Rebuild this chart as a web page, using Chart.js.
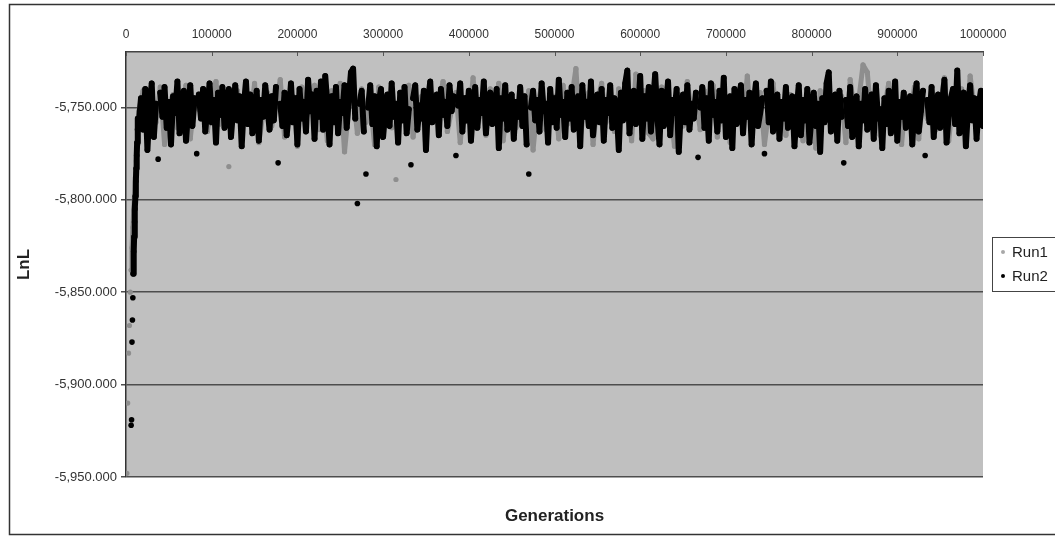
<!DOCTYPE html>
<html>
<head>
<meta charset="utf-8">
<script src="https://cdn.jsdelivr.net/npm/chart.js@4/dist/chart.umd.min.js"></script>
<style>
  html, body { margin: 0; padding: 0; background: #fff; }
  canvas { display: block; }
</style>
</head>
<body>
<canvas id="myChart" width="1055" height="537"></canvas>
<script>
// LnL trace of two MCMC runs
// burn-in samples (generation, LnL)
var run1BurnGen = [1000, 2000, 3000, 4000, 5000, 6000, 7000, 8000, 9000, 10000, 11000, 12000, 13000, 14000];
var run1BurnLnL = [-5948, -5910, -5883, -5868, -5850, -5838, -5826, -5815, -5806, -5797, -5788, -5779, -5770, -5762];
var run2BurnGen = [6000, 6500, 7000, 7500, 8000, 8500, 9000, 9500, 10000, 10500, 11000, 11500, 12000, 12500, 13000, 13500, 14000];
var run2BurnLnL = [-5922, -5919, -5877, -5865, -5853, -5840, -5828, -5820, -5812, -5805, -5798, -5790, -5783, -5776, -5769, -5762, -5756];

// after burn-in the chain is sampled at a fixed interval
var run1Start = 15000, run1Every = 5000;
var run1LnL = [
  -5752,-5741,-5765,-5746,-5758,-5739,-5770,-5749,-5743,-5761,
  -5755,-5738,-5767,-5745,-5751,-5740,-5763,-5748,-5736,-5759,
  -5744,-5782,-5750,-5741,-5764,-5747,-5757,-5737,-5769,-5753,
  -5742,-5760,-5748,-5735,-5766,-5751,-5744,-5771,-5739,-5756,
  -5749,-5738,-5762,-5745,-5768,-5741,-5755,-5737,-5774,-5750,
  -5743,-5764,-5740,-5758,-5746,-5770,-5739,-5753,-5747,-5761,
  -5789,-5742,-5757,-5738,-5766,-5749,-5744,-5772,-5740,-5755,
  -5748,-5736,-5763,-5751,-5742,-5769,-5745,-5758,-5734,-5760,
  -5747,-5765,-5740,-5754,-5737,-5768,-5750,-5743,-5761,-5746,
  -5756,-5741,-5773,-5748,-5739,-5762,-5752,-5744,-5767,-5738,
  -5759,-5745,-5729,-5766,-5750,-5742,-5770,-5747,-5737,-5758,
  -5744,-5763,-5740,-5755,-5748,-5768,-5732,-5752,-5741,-5764,
  -5767,-5746,-5739,-5757,-5750,-5771,-5743,-5760,-5736,-5753,
  -5745,-5762,-5741,-5758,-5738,-5766,-5749,-5744,-5769,-5751,
  -5740,-5756,-5733,-5763,-5747,-5742,-5770,-5752,-5737,-5759,
  -5748,-5765,-5743,-5755,-5739,-5768,-5750,-5746,-5772,-5741,
  -5757,-5738,-5763,-5749,-5744,-5769,-5735,-5752,-5746,-5727,
  -5731,-5758,-5742,-5765,-5750,-5737,-5761,-5747,-5770,-5744,
  -5753,-5739,-5767,-5746,-5756,-5741,-5762,-5749,-5734,-5768,
  -5745,-5758,-5740,-5763,-5733,-5751,-5747,-5760
];

var run2Start = 15000, run2Every = 2500;
var run2LnL = [
  -5758,-5745,-5762,-5740,-5773,-5750,-5737,-5766,-5748,-5778,-5742,-5755,-5739,-5761,-5747,-5770,-5744,-5753,-5736,-5764,
  -5749,-5741,-5768,-5752,-5738,-5760,-5745,-5775,-5743,-5756,-5740,-5763,-5750,-5737,-5758,-5746,-5769,-5742,-5754,-5739,
  -5761,-5747,-5740,-5766,-5751,-5738,-5757,-5744,-5771,-5749,-5736,-5759,-5743,-5764,-5752,-5741,-5768,-5746,-5755,-5738,
  -5750,-5762,-5744,-5757,-5739,-5780,-5748,-5760,-5742,-5765,-5753,-5737,-5758,-5745,-5770,-5740,-5756,-5747,-5763,-5735,
  -5752,-5743,-5767,-5741,-5755,-5736,-5762,-5733,-5749,-5770,-5744,-5758,-5739,-5764,-5747,-5753,-5738,-5761,-5745,-5731,
  -5729,-5756,-5802,-5748,-5741,-5763,-5786,-5750,-5738,-5759,-5744,-5771,-5747,-5740,-5766,-5752,-5743,-5760,-5737,-5755,
  -5748,-5769,-5742,-5757,-5739,-5764,-5751,-5781,-5745,-5738,-5762,-5749,-5756,-5741,-5773,-5746,-5736,-5758,-5750,-5743,
  -5765,-5740,-5754,-5747,-5760,-5738,-5752,-5744,-5776,-5749,-5737,-5763,-5745,-5757,-5741,-5768,-5750,-5739,-5761,-5746,
  -5753,-5736,-5764,-5748,-5742,-5759,-5751,-5740,-5772,-5745,-5756,-5738,-5762,-5749,-5743,-5767,-5747,-5755,-5739,-5760,
  -5744,-5770,-5786,-5750,-5741,-5757,-5746,-5763,-5737,-5752,-5748,-5769,-5740,-5758,-5745,-5761,-5735,-5754,-5747,-5766,
  -5742,-5756,-5739,-5762,-5749,-5744,-5771,-5738,-5755,-5747,-5760,-5736,-5765,-5751,-5743,-5758,-5740,-5768,-5746,-5753,
  -5738,-5761,-5745,-5750,-5773,-5742,-5757,-5737,-5730,-5764,-5748,-5741,-5759,-5752,-5733,-5767,-5744,-5756,-5739,-5763,
  -5747,-5732,-5755,-5770,-5741,-5760,-5749,-5736,-5765,-5746,-5753,-5740,-5774,-5751,-5743,-5758,-5738,-5762,-5748,-5756,
  -5742,-5777,-5750,-5739,-5761,-5745,-5768,-5737,-5754,-5747,-5763,-5741,-5757,-5734,-5766,-5749,-5744,-5772,-5740,-5759,
  -5751,-5738,-5764,-5746,-5755,-5742,-5770,-5748,-5737,-5760,-5753,-5745,-5775,-5741,-5758,-5736,-5763,-5750,-5743,-5767,
  -5747,-5756,-5739,-5761,-5749,-5744,-5771,-5752,-5738,-5765,-5746,-5757,-5740,-5769,-5754,-5742,-5760,-5748,-5774,-5745,
  -5758,-5737,-5731,-5763,-5750,-5743,-5768,-5741,-5755,-5780,-5746,-5760,-5739,-5766,-5752,-5744,-5771,-5748,-5757,-5740,
  -5762,-5749,-5743,-5767,-5738,-5756,-5751,-5772,-5745,-5759,-5741,-5764,-5753,-5736,-5768,-5747,-5755,-5742,-5761,-5750,
  -5744,-5770,-5748,-5737,-5763,-5752,-5741,-5776,-5746,-5758,-5739,-5766,-5750,-5743,-5761,-5747,-5735,-5769,-5754,-5745,
  -5740,-5759,-5730,-5764,-5748,-5742,-5771,-5751,-5738,-5757,-5745,-5767,-5749,-5741,-5760
];

var genMax = 1000000;
var lnlMin = -5950, lnlMax = -5720;

function tracePoints(burnGen, burnLnL, start, every, lnl) {
  var pts = burnGen.map(function (g, i) { return { x: g, y: burnLnL[i] }; });
  lnl.forEach(function (v, i) { pts.push({ x: start + i * every, y: v }); });
  return pts;
}

// no connecting stroke to isolated samples: the sparse start of the
// burn-in and the outliers below the dense band
function hideFar(ctx) {
  var y0 = ctx.p0.parsed.y, y1 = ctx.p1.parsed.y;
  var inTrace = ctx.p0.parsed.x >= run2Start;
  if (y0 < -5845 || y1 < -5845) return 'rgba(0,0,0,0)';
  if (inTrace && (y0 < -5774 || y1 < -5774)) return 'rgba(0,0,0,0)';
  return undefined;
}

var plotBackground = {
  id: 'plotBackground',
  beforeDraw: function (chart) {
    var c = chart.ctx, a = chart.chartArea;
    c.save();
    c.fillStyle = '#fff';
    c.fillRect(0, 0, chart.width, chart.height);
    c.fillStyle = '#c0c0c0';
    c.fillRect(a.left, a.top, a.right - a.left, a.bottom - a.top);
    c.restore();
  },
  afterDraw: function (chart) {
    var c = chart.ctx, a = chart.chartArea;
    c.save();
    // outer frame
    c.strokeStyle = '#333';
    c.lineWidth = 1.5;
    c.strokeRect(9.5, 4.5, chart.width + 20, chart.height - 7);
    // small ticks on the top axis, pointing into the plot
    var xs = chart.scales.x;
    c.strokeStyle = '#555';
    c.lineWidth = 1;
    xs.ticks.forEach(function (t) {
      var px = Math.round(xs.getPixelForValue(t.value)) + 0.5;
      c.beginPath();
      c.moveTo(px, a.top);
      c.lineTo(px, a.top + 4);
      c.stroke();
    });
    // legend box
    var lx = a.right + 9, ly = 237;
    c.strokeStyle = '#444';
    c.strokeRect(lx + 0.5, ly + 0.5, 80, 54);
    c.font = '15px "Liberation Sans", Arial, sans-serif';
    c.textBaseline = 'middle';
    chart.data.datasets.forEach(function (ds, i) {
      var y = ly + 15 + i * 24;
      c.fillStyle = ds.legendColor;
      c.beginPath();
      c.arc(lx + 11, y, 2, 0, Math.PI * 2);
      c.fill();
      c.fillStyle = '#222';
      c.fillText(ds.label, lx + 20, y + 1);
    });
    c.restore();
  }
};

var ctx = document.getElementById('myChart').getContext('2d');
var chart = new Chart(ctx, {
  type: 'scatter',
  data: {
    datasets: [{
      label: 'Run1',
      data: tracePoints(run1BurnGen, run1BurnLnL, run1Start, run1Every, run1LnL),
      showLine: true,
      borderColor: '#8e8e8e',
      backgroundColor: '#8e8e8e',
      legendColor: '#a8a8a8',
      borderWidth: 5,
      borderJoinStyle: 'round',
      borderCapStyle: 'round',
      pointRadius: 2.6,
      pointBorderWidth: 0,
      segment: { borderColor: hideFar },
      order: 2
    }, {
      label: 'Run2',
      data: tracePoints(run2BurnGen, run2BurnLnL, run2Start, run2Every, run2LnL),
      showLine: true,
      borderColor: '#000',
      backgroundColor: '#000',
      legendColor: '#000',
      borderWidth: 6,
      borderJoinStyle: 'round',
      borderCapStyle: 'round',
      pointRadius: 2.8,
      pointBorderWidth: 0,
      segment: { borderColor: hideFar },
      order: 1
    }]
  },
  options: {
    responsive: false,
    animation: false,
    events: [],
    devicePixelRatio: 1,
    layout: { padding: { left: 0, top: 0, right: 72, bottom: 0 } },
    plugins: { legend: { display: false }, tooltip: { enabled: false } },
    scales: {
      x: {
        type: 'linear',
        position: 'top',
        min: 0,
        max: genMax,
        ticks: {
          stepSize: 100000,
          autoSkip: false,
          maxRotation: 0,
          padding: 10,
          color: '#333',
          font: { family: '"Liberation Sans", Arial, sans-serif', size: 12 },
          callback: function (v) { return String(v); }
        },
        grid: { drawOnChartArea: false, drawTicks: false, tickLength: 5, color: '#555' },
        border: { color: '#444', width: 1.5 },
        afterFit: function (s) { s.height = 52; }
      },
      x2: {
        type: 'linear',
        axis: 'x',
        position: 'bottom',
        min: 0,
        max: genMax,
        ticks: { display: false },
        grid: { display: false },
        border: { display: false },
        title: {
          display: true,
          text: 'Generations',
          color: '#222',
          padding: { top: 0, bottom: 10 },
          font: { family: '"Liberation Sans", Arial, sans-serif', size: 17, weight: 'bold' }
        },
        afterFit: function (s) { s.height = 60; }
      },
      y: {
        type: 'linear',
        min: lnlMin,
        max: lnlMax,
        ticks: {
          stepSize: 50,
          includeBounds: false,
          padding: 4,
          color: '#333',
          font: { family: '"Liberation Sans", Arial, sans-serif', size: 13 },
          callback: function (v) {
            return v.toLocaleString('en-US', { minimumFractionDigits: 3, maximumFractionDigits: 3 });
          }
        },
        grid: { color: '#4d4d4d', lineWidth: 1.5, tickLength: 5 },
        border: { color: '#333', width: 1.5 },
        title: {
          display: true,
          text: 'LnL',
          color: '#222',
          padding: { top: 14, bottom: 0 },
          font: { family: '"Liberation Sans", Arial, sans-serif', size: 17, weight: 'bold' }
        },
        afterFit: function (s) { s.width = 126; }
      }
    }
  },
  plugins: [plotBackground]
});
</script>
</body>
</html>
